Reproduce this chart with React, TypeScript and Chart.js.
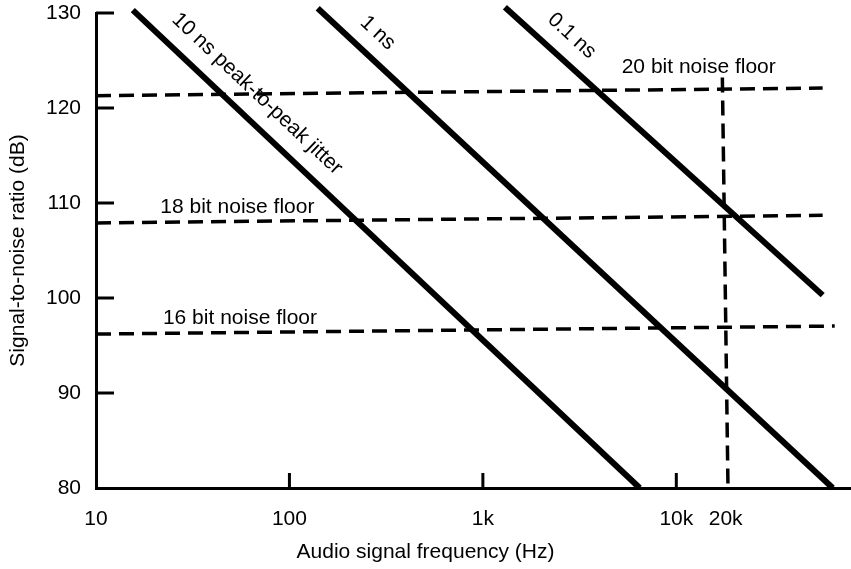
import React, { useEffect, useRef } from 'react';
import { Chart, registerables } from 'chart.js';

Chart.register(...registerables);

// ---- data ----
const yTickValues = [80, 90, 100, 110, 120, 130];
const yInnerTickValues = [90, 100, 110, 120, 130];
const xTickValues = [10, 100, 1000, 10000, 18000];
const xTickLabels = ['10', '100', '1k', '10k', '20k'];
const xInnerTickValues = [100, 1000, 10000];

const jitter10nsFreq = [15.5, 6470];
const jitter10nsSnr = [130.3, 80];
const jitter1nsFreq = [140, 64400];
const jitter1nsSnr = [130.5, 80];
const jitter01nsFreq = [1300, 57100];
const jitter01nsSnr = [130.6, 100.3];

const floor20Freq = [10, 57100];
const floor20Snr = [121.3, 122.1];
const floor18Freq = [10, 57100];
const floor18Snr = [107.9, 108.7];
const floor16Freq = [10, 65900];
const floor16Snr = [96.2, 97.05];
const limit20kFreq = [17300, 18500];
const limit20kSnr = [123.2, 80];

const labelTexts = ['10 ns peak-to-peak jitter', '1 ns', '0.1 ns', '20 bit noise floor', '18 bit noise floor', '16 bit noise floor'];
const labelFreq = [68, 286, 2880, 13060, 53.8, 55.5];
const labelSnr = [121.5, 127.9, 127.6, 124.3, 109.6, 97.9];
const labelAlongDataset = [0, 1, 2, -1, -1, -1];

const FONT = '"Liberation Sans", Arial, Helvetica, sans-serif';
const FS = 21;

const pts = (xs: number[], ys: number[]) => xs.map((x, i) => ({ x, y: ys[i] }));

const solid = (xs: number[], ys: number[]) => ({
  data: pts(xs, ys),
  borderColor: '#000',
  borderWidth: 6,
  pointRadius: 0,
  clip: false as const,
  borderCapStyle: 'butt' as const,
});
const dashed = (xs: number[], ys: number[]) => ({
  data: pts(xs, ys),
  borderColor: '#000',
  borderWidth: 3.5,
  borderDash: [15, 8],
  pointRadius: 0,
  clip: false as const,
  borderCapStyle: 'butt' as const,
});

const decorPlugin = {
  id: 'decor',
  afterDatasetsDraw(chart: any) {
    const { ctx, chartArea, scales } = chart;
    const xs = scales.x;
    const ys = scales.y;
    ctx.save();
    ctx.strokeStyle = '#000';
    ctx.lineWidth = 3;
    yInnerTickValues.forEach((v) => {
      const py = ys.getPixelForValue(v);
      ctx.beginPath();
      ctx.moveTo(chartArea.left, py);
      ctx.lineTo(chartArea.left + 18, py);
      ctx.stroke();
    });
    xInnerTickValues.forEach((v) => {
      const px = xs.getPixelForValue(v);
      ctx.beginPath();
      ctx.moveTo(px, chartArea.bottom);
      ctx.lineTo(px, chartArea.bottom - 15);
      ctx.stroke();
    });
    ctx.fillStyle = '#000';
    ctx.font = `${FS}px ${FONT}`;
    ctx.textAlign = 'center';
    ctx.textBaseline = 'middle';
    labelTexts.forEach((t, i) => {
      const px = xs.getPixelForValue(labelFreq[i]);
      const py = ys.getPixelForValue(labelSnr[i]);
      let angle = 0;
      const di = labelAlongDataset[i];
      if (di >= 0) {
        const d = chart.data.datasets[di].data;
        const x1 = xs.getPixelForValue(d[0].x);
        const y1 = ys.getPixelForValue(d[0].y);
        const x2 = xs.getPixelForValue(d[d.length - 1].x);
        const y2 = ys.getPixelForValue(d[d.length - 1].y);
        angle = Math.atan2(y2 - y1, x2 - x1);
      }
      ctx.save();
      ctx.translate(px, py);
      ctx.rotate(angle);
      ctx.fillText(t, 0, 0);
      ctx.restore();
    });
    ctx.restore();
  },
};

export default function App() {
  const ref = useRef<HTMLCanvasElement | null>(null);
  useEffect(() => {
    document.body.style.margin = '0';
    const canvas = ref.current;
    if (!canvas) return;
    const chart = new Chart(canvas, {
      type: 'line',
      data: {
        datasets: [
          solid(jitter10nsFreq, jitter10nsSnr),
          solid(jitter1nsFreq, jitter1nsSnr),
          solid(jitter01nsFreq, jitter01nsSnr),
          dashed(floor20Freq, floor20Snr),
          dashed(floor18Freq, floor18Snr),
          dashed(floor16Freq, floor16Snr),
          dashed(limit20kFreq, limit20kSnr),
        ] as any,
      },
      options: {
        responsive: false,
        animation: false,
        events: [],
        layout: { padding: 0 },
        plugins: {
          legend: { display: false },
          tooltip: { enabled: false },
          title: {
            display: true,
            position: 'bottom',
            text: 'Audio signal frequency (Hz)',
            color: '#000',
            font: { family: FONT, size: FS, weight: 'normal' },
            padding: { top: 0, bottom: 4 },
          },
        },
        scales: {
          x: {
            type: 'logarithmic',
            min: 10,
            max: 80000,
            grid: { display: false, drawTicks: false },
            border: { display: true, color: '#000', width: 3 },
            afterBuildTicks: (scale: any) => {
              scale.ticks = xTickValues.map((v) => ({ value: v }));
            },
            afterFit: (scale: any) => {
              scale.height = 51.8;
              scale.paddingRight = 0;
            },
            ticks: {
              autoSkip: false,
              maxRotation: 0,
              padding: 19,
              color: '#000',
              font: { family: FONT, size: FS },
              callback: (_v: any, i: number) => xTickLabels[i],
            },
          },
          y: {
            type: 'linear',
            min: 80,
            max: 130,
            grid: { display: false, drawTicks: false },
            border: { display: true, color: '#000', width: 3 },
            afterBuildTicks: (scale: any) => {
              scale.ticks = yTickValues.map((v) => ({ value: v }));
            },
            afterFit: (scale: any) => {
              scale.width = 96;
              scale.paddingTop = 13;
              scale.paddingBottom = 0;
            },
            ticks: {
              padding: 15,
              color: '#000',
              font: { family: FONT, size: FS },
            },
            title: {
              display: true,
              text: 'Signal-to-noise ratio (dB)',
              color: '#000',
              font: { family: FONT, size: FS },
              padding: { top: 6, bottom: 0 },
            },
          },
        },
      } as any,
      plugins: [decorPlugin],
    });
    return () => chart.destroy();
  }, []);
  return <canvas ref={ref} width={851} height={569} style={{ display: 'block' }} />;
}
